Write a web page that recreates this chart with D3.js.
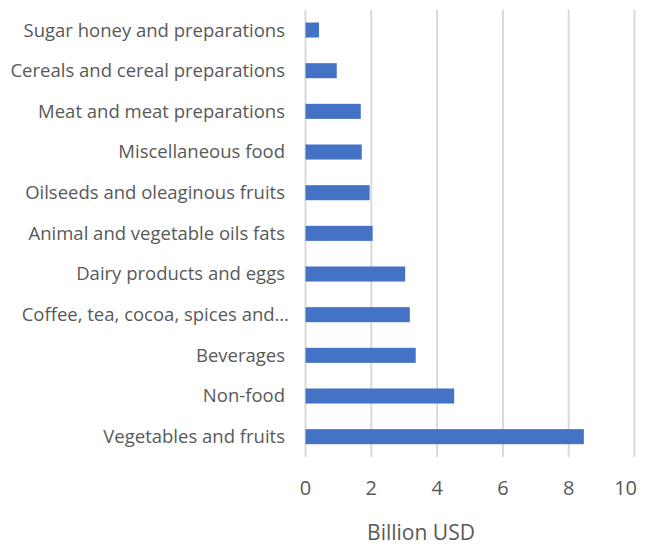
<!DOCTYPE html>
<html>
<head>
<meta charset="utf-8">
<script src="https://cdn.jsdelivr.net/npm/d3@7"></script>
<style>
  body { margin: 0; background: white; }
  text { font-family: "Open Sans", sans-serif; fill: #595959; }
</style>
</head>
<body>
<svg width="649" height="546"></svg>
<script>
// categories, top to bottom
const categories = [
  "Sugar honey and preparations",
  "Cereals and cereal preparations",
  "Meat and meat preparations",
  "Miscellaneous food",
  "Oilseeds and oleaginous fruits",
  "Animal and vegetable oils fats",
  "Dairy products and eggs",
  "Coffee, tea, cocoa, spices and\u2026",
  "Beverages",
  "Non-food",
  "Vegetables and fruits"
];
const values = [0.41, 0.95, 1.68, 1.71, 1.95, 2.04, 3.03, 3.17, 3.35, 4.52, 8.46];
const xTicks = [0, 2, 4, 6, 8, 10];
const xTitle = "Billion USD";

const svg = d3.select("svg");
const plotLeft = 305.5, plotRight = 634.5, plotTop = 9.7, plotBottom = 457;

const x = d3.scaleLinear().domain([0, 10]).range([plotLeft, plotRight]);
const y = d3.scaleBand().domain(categories).range([plotTop, plotBottom])
  .paddingInner(0.63).paddingOuter(0.315);

// gridlines
svg.append("g").selectAll("line")
  .data(xTicks)
  .enter().append("line")
  .attr("x1", d => x(d)).attr("x2", d => x(d))
  .attr("y1", plotTop).attr("y2", plotBottom)
  .style("stroke", "#d9d9d9")
  .style("stroke-width", "2px");

// bars
svg.append("g").selectAll("rect")
  .data(values)
  .enter().append("rect")
  .attr("x", x(0))
  .attr("y", (d, i) => y(categories[i]))
  .attr("width", d => x(d) - x(0))
  .attr("height", y.bandwidth())
  .attr("fill", "#4472c4");

// category labels
svg.append("g").selectAll("text")
  .data(categories)
  .enter().append("text")
  .attr("x", d => d.endsWith("\u2026") ? 289 : 285)
  .attr("y", d => y(d) + y.bandwidth() / 2)
  .attr("dy", ".35em")
  .attr("text-anchor", "end")
  .style("font-size", "18.5px")
  .text(d => d);

// tick labels (last one pulled in to stay inside the frame)
svg.append("g").selectAll("text")
  .data(xTicks)
  .enter().append("text")
  .attr("x", d => d === 10 ? 637 : x(d))
  .attr("y", 495)
  .attr("text-anchor", d => d === 10 ? "end" : "middle")
  .style("font-size", "20px")
  .text(d => d);

svg.append("text")
  .attr("x", 421)
  .attr("y", 540)
  .attr("text-anchor", "middle")
  .style("font-size", "21px")
  .text(xTitle);
</script>
</body>
</html>
